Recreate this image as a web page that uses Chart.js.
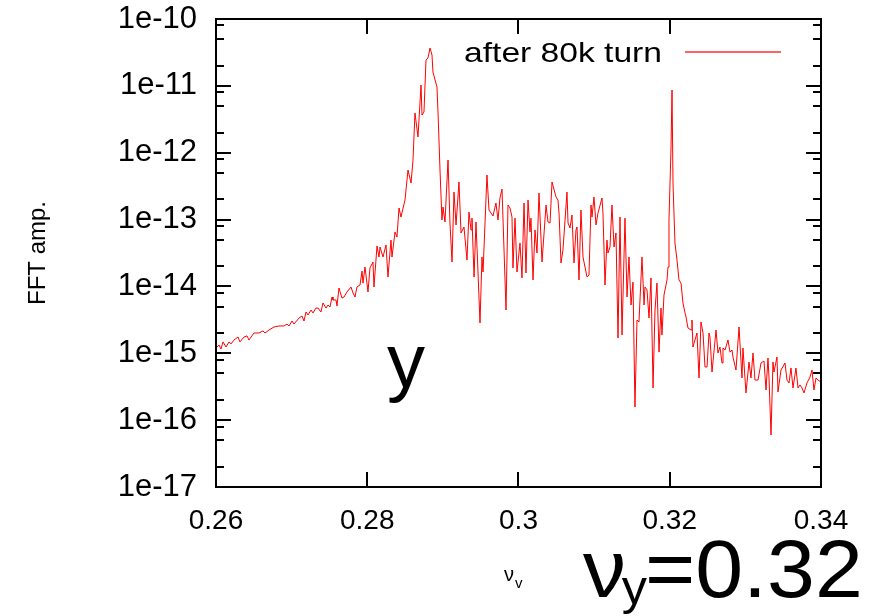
<!DOCTYPE html>
<html>
<head>
<meta charset="utf-8">
<script src="https://cdn.jsdelivr.net/npm/chart.js@4"></script>
<style>
html,body{margin:0;padding:0;background:#fff;}
#c{display:block;}
</style>
</head>
<body>
<canvas id="c" width="875" height="616"></canvas>
<script>
// ---- data ----
const nu = [
0.26013,0.26040,0.26066,0.26093,0.26132,0.26172,0.26198,0.26238,0.26291,0.26317,
0.26370,0.26410,0.26436,0.26502,0.26569,0.26621,0.26648,0.26701,0.26767,0.26833,
0.26899,0.26939,0.26965,0.27005,0.27031,0.27098,0.27137,0.27164,0.27190,0.27217,
0.27256,0.27283,0.27322,0.27349,0.27388,0.27415,0.27455,0.27481,0.27507,0.27534,
0.27547,0.27587,0.27600,0.27626,0.27666,0.27693,0.27732,0.27785,0.27812,0.27838,
0.27864,0.27904,0.27931,0.27944,0.27970,0.28010,0.28036,0.28076,0.28089,0.28129,
0.28155,0.28169,0.28208,0.28248,0.28274,0.28314,0.28327,0.28367,0.28393,0.28420,
0.28446,0.28499,0.28539,0.28579,0.28605,0.28631,0.28671,0.28711,0.28724,0.28750,
0.28777,0.28803,0.28830,0.28856,0.28869,0.28922,0.28936,0.28962,0.28988,0.29002,
0.29028,0.29068,0.29094,0.29121,0.29147,0.29174,0.29213,0.29240,0.29279,0.29319,
0.29345,0.29372,0.29385,0.29412,0.29438,0.29491,0.29517,0.29531,0.29583,0.29610,
0.29663,0.29702,0.29729,0.29755,0.29782,0.29835,0.29861,0.29888,0.29914,0.29927,
0.29954,0.29980,0.30020,0.30046,0.30073,0.30099,0.30126,0.30152,0.30165,0.30192,
0.30218,0.30245,0.30271,0.30311,0.30364,0.30390,0.30417,0.30443,0.30496,0.30522,
0.30536,0.30562,0.30588,0.30641,0.30655,0.30681,0.30707,0.30734,0.30760,0.30774,
0.30800,0.30826,0.30853,0.30906,0.30932,0.30959,0.30972,0.30998,0.31025,0.31051,
0.31104,0.31117,0.31144,0.31170,0.31183,0.31210,0.31236,0.31263,0.31289,0.31316,
0.31342,0.31369,0.31408,0.31435,0.31461,0.31488,0.31514,0.31540,0.31567,0.31593,
0.31633,0.31660,0.31673,0.31699,0.31726,0.31752,0.31779,0.31805,0.31831,0.31858,
0.31884,0.31897,0.31924,0.31964,0.31977,0.31990,0.32017,0.32030,0.32043,0.32069,
0.32096,0.32122,0.32149,0.32175,0.32202,0.32215,0.32241,0.32281,0.32294,0.32307,
0.32360,0.32387,0.32413,0.32440,0.32466,0.32493,0.32519,0.32532,0.32559,0.32612,
0.32638,0.32664,0.32691,0.32704,0.32731,0.32770,0.32797,0.32823,0.32836,0.32876,
0.32916,0.32955,0.32968,0.33008,0.33048,0.33074,0.33101,0.33127,0.33167,0.33207,
0.33246,0.33273,0.33299,0.33312,0.33339,0.33365,0.33378,0.33418,0.33431,0.33471,
0.33524,0.33550,0.33577,0.33603,0.33630,0.33669,0.33696,0.33722,0.33749,0.33775,
0.33815,0.33855,0.33881,0.33907,0.33934,0.33960,0.34000
];
const amp = [
1.24e-15,1.33e-15,1.16e-15,1.48e-15,1.24e-15,1.48e-15,1.38e-15,1.58e-15,1.75e-15,1.48e-15,
1.75e-15,1.82e-15,1.58e-15,2.01e-15,2.01e-15,2.16e-15,2.01e-15,2.23e-15,2.47e-15,2.56e-15,
2.56e-15,2.74e-15,2.56e-15,3.04e-15,2.74e-15,3.37e-15,3.61e-15,3.04e-15,4.15e-15,3.74e-15,
4.44e-15,4.01e-15,4.75e-15,4.75e-15,4.15e-15,5.65e-15,4.75e-15,5.27e-15,4.92e-15,6.95e-15,
6.27e-15,6.27e-15,5.09e-15,9.46e-15,6.71e-15,6.95e-15,8.26e-15,9.80e-15,7.98e-15,6.95e-15,
9.80e-15,1.05e-14,1.70e-14,1.12e-14,1.95e-14,8.26e-15,1.89e-14,2.32e-14,9.80e-15,4.03e-14,
2.75e-14,3.89e-14,2.75e-14,4.17e-14,1.38e-14,4.94e-14,2.75e-14,6.52e-14,5.48e-14,1.49e-13,
1.09e-13,1.96e-13,5.51e-13,3.52e-13,7.78e-13,3.93e-12,1.72e-12,1.03e-11,3.66e-12,4.06e-12,
2.44e-11,2.61e-11,3.68e-11,2.89e-11,1.61e-11,9.61e-12,3.93e-12,5.51e-13,9.86e-14,1.54e-13,
9.20e-14,7.78e-13,8.89e-14,2.32e-14,2.58e-13,8.30e-14,3.65e-13,6.30e-14,7.74e-14,2.48e-14,
1.30e-13,6.98e-14,1.05e-13,1.38e-14,9.20e-14,2.84e-15,2.75e-14,1.64e-14,4.64e-13,1.39e-13,
1.13e-13,1.77e-13,9.86e-14,2.10e-13,2.86e-13,4.44e-15,1.65e-13,1.49e-13,1.09e-13,1.89e-14,
1.05e-13,1.64e-14,4.47e-14,1.34e-14,1.77e-13,1.59e-14,1.96e-13,6.52e-14,1.05e-13,1.25e-14,
6.98e-14,3.16e-14,2.49e-13,2.32e-14,1.65e-13,9.20e-14,8.89e-14,3.65e-13,2.18e-13,1.96e-13,
1.25e-13,2.24e-14,3.51e-14,2.58e-13,8.89e-14,7.48e-14,1.17e-13,2.24e-14,6.98e-14,7.74e-14,
1.25e-14,1.39e-13,2.75e-14,1.38e-14,1.48e-14,1.65e-13,1.09e-13,2.18e-13,8.30e-14,1.25e-13,
2.10e-13,1.25e-13,1.05e-14,4.94e-14,3.16e-14,3.89e-14,1.65e-13,3.89e-14,6.30e-14,1.69e-15,
1.09e-13,1.88e-15,1.05e-13,6.95e-15,2.75e-14,5.27e-15,1.16e-14,1.57e-16,3.15e-15,2.94e-15,
2.75e-14,5.27e-15,9.80e-15,8.85e-15,3.37e-15,1.34e-14,3.03e-16,4.44e-15,1.12e-14,1.04e-15,
4.75e-15,1.88e-15,7.45e-15,1.25e-14,1.95e-14,9.86e-14,1.22e-12,8.67e-12,3.52e-13,4.47e-14,
2.48e-14,1.25e-14,1.12e-14,5.65e-15,4.01e-15,3.49e-15,2.39e-15,2.23e-15,3.15e-15,1.24e-15,
2.01e-15,4.27e-16,2.94e-15,2.01e-15,6.24e-16,6.24e-16,2.01e-15,1.75e-15,5.25e-16,2.23e-15,
1.01e-15,1.24e-15,7.16e-16,1.20e-15,1.12e-15,1.58e-15,1.04e-15,1.12e-15,8.79e-16,5.62e-16,
2.47e-15,4.27e-16,1.20e-15,2.55e-16,7.41e-16,4.27e-16,1.01e-15,3.98e-16,3.98e-16,7.16e-16,
7.67e-16,2.82e-16,8.49e-16,4.42e-16,6.00e-17,7.41e-16,5.25e-16,8.79e-16,2.64e-16,5.62e-16,
7.16e-16,3.98e-16,3.60e-16,6.03e-16,3.03e-16,6.03e-16,3.03e-16,3.36e-16,3.03e-16,2.55e-16,
3.60e-16,4.42e-16,5.62e-16,2.82e-16,4.27e-16,3.98e-16,3.72e-16
];
const xTickValues = [0.26, 0.28, 0.30, 0.32, 0.34];
const xTickLabels = ['0.26', '0.28', '0.3', '0.32', '0.34'];
const yTickValues = [1e-17, 1e-16, 1e-15, 1e-14, 1e-13, 1e-12, 1e-11, 1e-10];
const yTickLabels = ['1e-17', '1e-16', '1e-15', '1e-14', '1e-13', '1e-12', '1e-11', '1e-10'];
const yMinorFactors = [2, 5, 8];
const seriesLabel = 'after 80k turn';
const yAxisTitle = 'FFT amp.';
const panelLetter = 'y';
const tuneMain = 'ν';
const tuneSub = 'y';
const tuneRest = '=0.32';
const xTitleMain = 'ν';
const xTitleSub = 'v';

const FONT = '"Liberation Sans", Arial, Helvetica, sans-serif';

const decorPlugin = {
  id: 'decor',
  afterDatasetsDraw(chart) {
    const {ctx, chartArea: a, scales} = chart;
    const xs = scales.x, ys = scales.y;
    ctx.save();
    ctx.strokeStyle = '#000';
    ctx.lineWidth = 2;
    ctx.beginPath();
    xTickValues.forEach(v => {
      const px = Math.round(xs.getPixelForValue(v));
      ctx.moveTo(px, a.bottom); ctx.lineTo(px, a.bottom - 15);
      ctx.moveTo(px, a.top); ctx.lineTo(px, a.top + 15);
    });
    yTickValues.forEach((v, i) => {
      const py = Math.round(ys.getPixelForValue(v));
      ctx.moveTo(a.left, py); ctx.lineTo(a.left + 15, py);
      ctx.moveTo(a.right, py); ctx.lineTo(a.right - 15, py);
      if (i < yTickValues.length - 1) {
        yMinorFactors.forEach(f => {
          const pm = Math.round(ys.getPixelForValue(v * f));
          ctx.moveTo(a.left, pm); ctx.lineTo(a.left + 8, pm);
          ctx.moveTo(a.right, pm); ctx.lineTo(a.right - 8, pm);
        });
      }
    });
    ctx.stroke();
    ctx.strokeRect(a.left, a.top, a.right - a.left, a.bottom - a.top);

    ctx.fillStyle = '#000';
    // legend (text then line sample)
    ctx.save();
    ctx.font = '28px ' + FONT;
    ctx.textAlign = 'right';
    ctx.textBaseline = 'alphabetic';
    ctx.translate(662, 62);
    ctx.scale(1.2, 1);
    ctx.fillText(seriesLabel, 0, 0);
    ctx.restore();
    ctx.strokeStyle = '#ff3030';
    ctx.lineWidth = 1.5;
    ctx.beginPath();
    ctx.moveTo(685, 52); ctx.lineTo(781, 52);
    ctx.stroke();

    // y axis title
    ctx.save();
    ctx.translate(38, (a.top + a.bottom) / 2);
    ctx.rotate(-Math.PI / 2);
    ctx.textAlign = 'center';
    ctx.textBaseline = 'middle';
    ctx.font = '24px ' + FONT;
    ctx.fillText(yAxisTitle, 0, 0);
    ctx.restore();

    // big panel letter
    ctx.textAlign = 'left';
    ctx.textBaseline = 'alphabetic';
    ctx.font = '76px ' + FONT;
    ctx.fillText(panelLetter, 387, 387);

    // x axis title
    ctx.font = '20px ' + FONT;
    ctx.fillText(xTitleMain, 504, 581);
    ctx.font = '15px ' + FONT;
    ctx.fillText(xTitleSub, 515, 588);

    // tune annotation
    ctx.save();
    ctx.translate(583, 597);
    ctx.scale(1.05, 1);
    ctx.font = '82px ' + FONT;
    ctx.fillText(tuneMain, 0, 0);
    const w1 = ctx.measureText(tuneMain).width;
    ctx.font = '48px ' + FONT;
    ctx.fillText(tuneSub, w1 - 4, 7);
    const w2 = ctx.measureText(tuneSub).width;
    ctx.font = '82px ' + FONT;
    ctx.fillText(tuneRest, w1 - 4 + w2 - 2, 0);
    ctx.restore();
    ctx.restore();
  }
};

const points = nu.map((x, i) => ({x: x, y: amp[i]}));

new Chart(document.getElementById('c').getContext('2d'), {
  type: 'line',
  data: {
    datasets: [{
      label: seriesLabel,
      data: points,
      borderColor: '#ff0000',
      borderWidth: 1,
      pointRadius: 0,
      tension: 0,
      fill: false
    }]
  },
  options: {
    responsive: false,
    animation: false,
    devicePixelRatio: 1,
    layout: {autoPadding: false, padding: {top: 19, right: 54, left: 0, bottom: 0}},
    plugins: {legend: {display: false}, tooltip: {enabled: false}},
    scales: {
      x: {
        type: 'linear', min: 0.26, max: 0.34,
        afterBuildTicks: s => { s.ticks = xTickValues.map(v => ({value: v})); },
        afterFit: s => { s.height = 129; s.paddingLeft = 0; s.paddingRight = 0; },
        ticks: {
          autoSkip: false, maxRotation: 0, padding: 17, color: '#000',
          font: {family: FONT, size: 28},
          callback: v => { const i = xTickValues.findIndex(t => Math.abs(t - v) < 1e-9); return i >= 0 ? xTickLabels[i] : ''; }
        },
        grid: {display: false, drawTicks: false},
        border: {display: false}
      },
      y: {
        type: 'logarithmic', min: 1e-17, max: 1e-10,
        afterBuildTicks: s => { s.ticks = yTickValues.map(v => ({value: v})); },
        afterFit: s => { s.width = 216; s.paddingTop = 0; s.paddingBottom = 0; },
        ticks: {
          autoSkip: false, padding: 19, color: '#000',
          font: {family: FONT, size: 31},
          callback: v => { const i = yTickValues.findIndex(t => Math.abs(Math.log10(t) - Math.log10(v)) < 1e-6); return i >= 0 ? yTickLabels[i] : ''; }
        },
        grid: {display: false, drawTicks: false},
        border: {display: false}
      }
    }
  },
  plugins: [decorPlugin]
});
</script>
</body>
</html>
